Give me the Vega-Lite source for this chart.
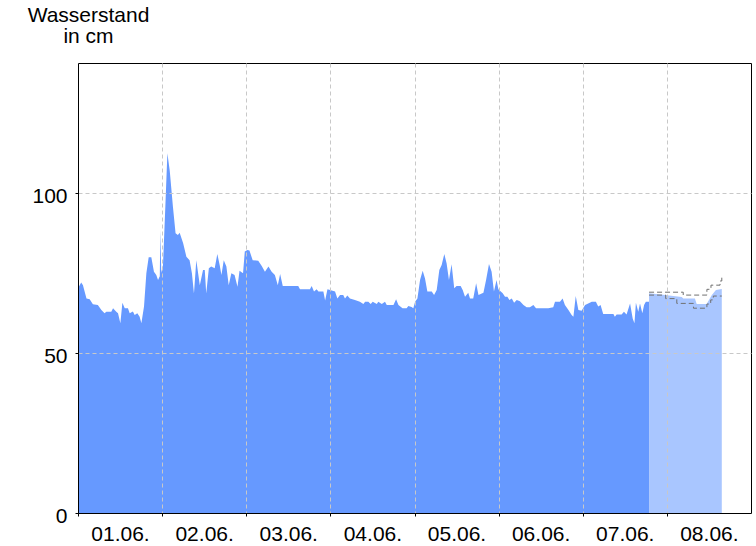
{
  "$schema": "https://vega.github.io/schema/vega-lite/v6.json",
  "width": 673,
  "height": 450,
  "autosize": {"type": "none"},
  "padding": {"left": 78, "top": 63, "right": 5, "bottom": 33},
  "background": "white",
  "config": {
    "view": {"stroke": "black", "strokeWidth": 1},
    "font": "Liberation Sans"
  },
  "datasets": {
    "messung": [
      {"zeit": "2024-06-01T00:00:00Z", "wert": 70.2},
      {"zeit": "2024-06-01T00:55:00Z", "wert": 72},
      {"zeit": "2024-06-01T01:25:00Z", "wert": 71.2},
      {"zeit": "2024-06-01T02:25:00Z", "wert": 67},
      {"zeit": "2024-06-01T03:20:00Z", "wert": 66.8},
      {"zeit": "2024-06-01T04:15:00Z", "wert": 65.2},
      {"zeit": "2024-06-01T05:40:00Z", "wert": 65},
      {"zeit": "2024-06-01T06:40:00Z", "wert": 63.4},
      {"zeit": "2024-06-01T07:35:00Z", "wert": 62.4},
      {"zeit": "2024-06-01T08:05:00Z", "wert": 62.9},
      {"zeit": "2024-06-01T09:30:00Z", "wert": 62.9},
      {"zeit": "2024-06-01T10:00:00Z", "wert": 64},
      {"zeit": "2024-06-01T10:55:00Z", "wert": 62.9},
      {"zeit": "2024-06-01T11:25:00Z", "wert": 62.4},
      {"zeit": "2024-06-01T12:05:00Z", "wert": 59.3},
      {"zeit": "2024-06-01T12:40:00Z", "wert": 65.7},
      {"zeit": "2024-06-01T13:20:00Z", "wert": 64},
      {"zeit": "2024-06-01T14:15:00Z", "wert": 64},
      {"zeit": "2024-06-01T14:45:00Z", "wert": 62.4},
      {"zeit": "2024-06-01T15:40:00Z", "wert": 63},
      {"zeit": "2024-06-01T16:10:00Z", "wert": 61.9},
      {"zeit": "2024-06-01T16:55:00Z", "wert": 62.4},
      {"zeit": "2024-06-01T17:35:00Z", "wert": 61.3},
      {"zeit": "2024-06-01T18:05:00Z", "wert": 59.3},
      {"zeit": "2024-06-01T18:50:00Z", "wert": 64.5},
      {"zeit": "2024-06-01T19:30:00Z", "wert": 74.9},
      {"zeit": "2024-06-01T20:10:00Z", "wert": 79.9},
      {"zeit": "2024-06-01T20:55:00Z", "wert": 79.9},
      {"zeit": "2024-06-01T21:40:00Z", "wert": 75.4},
      {"zeit": "2024-06-01T22:20:00Z", "wert": 74.4},
      {"zeit": "2024-06-01T22:50:00Z", "wert": 72.8},
      {"zeit": "2024-06-01T23:20:00Z", "wert": 74},
      {"zeit": "2024-06-01T23:30:00Z", "wert": 88.5},
      {"zeit": "2024-06-01T23:45:00Z", "wert": 75},
      {"zeit": "2024-06-02T00:15:00Z", "wert": 77.5},
      {"zeit": "2024-06-02T00:55:00Z", "wert": 95.7},
      {"zeit": "2024-06-02T01:30:00Z", "wert": 112.4},
      {"zeit": "2024-06-02T02:10:00Z", "wert": 107},
      {"zeit": "2024-06-02T03:05:00Z", "wert": 95.7},
      {"zeit": "2024-06-02T03:50:00Z", "wert": 87.4},
      {"zeit": "2024-06-02T04:30:00Z", "wert": 86.9},
      {"zeit": "2024-06-02T05:00:00Z", "wert": 87.6},
      {"zeit": "2024-06-02T06:00:00Z", "wert": 84.3},
      {"zeit": "2024-06-02T06:55:00Z", "wert": 80.1},
      {"zeit": "2024-06-02T07:50:00Z", "wert": 79},
      {"zeit": "2024-06-02T08:30:00Z", "wert": 74.9},
      {"zeit": "2024-06-02T09:05:00Z", "wert": 68.6},
      {"zeit": "2024-06-02T09:45:00Z", "wert": 79},
      {"zeit": "2024-06-02T10:45:00Z", "wert": 71.2},
      {"zeit": "2024-06-02T11:40:00Z", "wert": 75.9},
      {"zeit": "2024-06-02T12:10:00Z", "wert": 75.9},
      {"zeit": "2024-06-02T12:35:00Z", "wert": 68.6},
      {"zeit": "2024-06-02T13:20:00Z", "wert": 76.5},
      {"zeit": "2024-06-02T14:00:00Z", "wert": 77},
      {"zeit": "2024-06-02T15:00:00Z", "wert": 76.5},
      {"zeit": "2024-06-02T15:45:00Z", "wert": 80.9},
      {"zeit": "2024-06-02T16:25:00Z", "wert": 77.5},
      {"zeit": "2024-06-02T16:55:00Z", "wert": 74.4},
      {"zeit": "2024-06-02T17:35:00Z", "wert": 79},
      {"zeit": "2024-06-02T18:20:00Z", "wert": 77},
      {"zeit": "2024-06-02T19:00:00Z", "wert": 71.2},
      {"zeit": "2024-06-02T19:45:00Z", "wert": 74.9},
      {"zeit": "2024-06-02T20:40:00Z", "wert": 74.4},
      {"zeit": "2024-06-02T21:30:00Z", "wert": 70.7},
      {"zeit": "2024-06-02T22:05:00Z", "wert": 75.7},
      {"zeit": "2024-06-02T23:05:00Z", "wert": 74.9},
      {"zeit": "2024-06-02T23:35:00Z", "wert": 81.7},
      {"zeit": "2024-06-03T00:20:00Z", "wert": 82.2},
      {"zeit": "2024-06-03T00:55:00Z", "wert": 82},
      {"zeit": "2024-06-03T01:50:00Z", "wert": 79},
      {"zeit": "2024-06-03T03:25:00Z", "wert": 78.8},
      {"zeit": "2024-06-03T04:25:00Z", "wert": 77.2},
      {"zeit": "2024-06-03T05:20:00Z", "wert": 75.4},
      {"zeit": "2024-06-03T06:20:00Z", "wert": 77},
      {"zeit": "2024-06-03T07:15:00Z", "wert": 75.4},
      {"zeit": "2024-06-03T08:10:00Z", "wert": 74.4},
      {"zeit": "2024-06-03T09:00:00Z", "wert": 71.2},
      {"zeit": "2024-06-03T09:40:00Z", "wert": 74.7},
      {"zeit": "2024-06-03T10:25:00Z", "wert": 70.9},
      {"zeit": "2024-06-03T14:50:00Z", "wert": 70.9},
      {"zeit": "2024-06-03T15:20:00Z", "wert": 69.9},
      {"zeit": "2024-06-03T18:10:00Z", "wert": 69.9},
      {"zeit": "2024-06-03T18:40:00Z", "wert": 70.9},
      {"zeit": "2024-06-03T19:20:00Z", "wert": 69.2},
      {"zeit": "2024-06-03T20:05:00Z", "wert": 69.9},
      {"zeit": "2024-06-03T20:35:00Z", "wert": 69.2},
      {"zeit": "2024-06-03T22:00:00Z", "wert": 69.2},
      {"zeit": "2024-06-03T22:30:00Z", "wert": 66.4},
      {"zeit": "2024-06-03T23:10:00Z", "wert": 69.9},
      {"zeit": "2024-06-03T23:55:00Z", "wert": 69.7},
      {"zeit": "2024-06-04T01:20:00Z", "wert": 69.2},
      {"zeit": "2024-06-04T02:00:00Z", "wert": 67},
      {"zeit": "2024-06-04T02:45:00Z", "wert": 68.1},
      {"zeit": "2024-06-04T03:40:00Z", "wert": 68.1},
      {"zeit": "2024-06-04T04:10:00Z", "wert": 67},
      {"zeit": "2024-06-04T04:50:00Z", "wert": 68},
      {"zeit": "2024-06-04T05:35:00Z", "wert": 67},
      {"zeit": "2024-06-04T07:00:00Z", "wert": 66.6},
      {"zeit": "2024-06-04T08:25:00Z", "wert": 66},
      {"zeit": "2024-06-04T09:25:00Z", "wert": 65.3},
      {"zeit": "2024-06-04T09:55:00Z", "wert": 66},
      {"zeit": "2024-06-04T10:50:00Z", "wert": 66},
      {"zeit": "2024-06-04T11:30:00Z", "wert": 65.3},
      {"zeit": "2024-06-04T12:05:00Z", "wert": 66},
      {"zeit": "2024-06-04T13:15:00Z", "wert": 65.3},
      {"zeit": "2024-06-04T13:40:00Z", "wert": 66},
      {"zeit": "2024-06-04T14:40:00Z", "wert": 65.3},
      {"zeit": "2024-06-04T15:35:00Z", "wert": 66},
      {"zeit": "2024-06-04T16:05:00Z", "wert": 65},
      {"zeit": "2024-06-04T18:00:00Z", "wert": 65},
      {"zeit": "2024-06-04T18:45:00Z", "wert": 66.8},
      {"zeit": "2024-06-04T19:25:00Z", "wert": 65},
      {"zeit": "2024-06-04T20:35:00Z", "wert": 64},
      {"zeit": "2024-06-04T21:45:00Z", "wert": 64},
      {"zeit": "2024-06-04T22:15:00Z", "wert": 64.7},
      {"zeit": "2024-06-04T23:10:00Z", "wert": 64.4},
      {"zeit": "2024-06-04T23:40:00Z", "wert": 64},
      {"zeit": "2024-06-05T00:10:00Z", "wert": 66},
      {"zeit": "2024-06-05T00:50:00Z", "wert": 67},
      {"zeit": "2024-06-05T01:35:00Z", "wert": 72.8},
      {"zeit": "2024-06-05T02:20:00Z", "wert": 75.7},
      {"zeit": "2024-06-05T03:00:00Z", "wert": 73.3},
      {"zeit": "2024-06-05T03:40:00Z", "wert": 69.2},
      {"zeit": "2024-06-05T04:55:00Z", "wert": 69.2},
      {"zeit": "2024-06-05T05:35:00Z", "wert": 68.1},
      {"zeit": "2024-06-05T06:20:00Z", "wert": 69.7},
      {"zeit": "2024-06-05T07:05:00Z", "wert": 75.9},
      {"zeit": "2024-06-05T07:45:00Z", "wert": 77.5},
      {"zeit": "2024-06-05T08:30:00Z", "wert": 80.9},
      {"zeit": "2024-06-05T09:10:00Z", "wert": 78},
      {"zeit": "2024-06-05T09:50:00Z", "wert": 72.8},
      {"zeit": "2024-06-05T10:35:00Z", "wert": 77.7},
      {"zeit": "2024-06-05T11:20:00Z", "wert": 70.2},
      {"zeit": "2024-06-05T12:00:00Z", "wert": 70.9},
      {"zeit": "2024-06-05T13:10:00Z", "wert": 70.9},
      {"zeit": "2024-06-05T13:45:00Z", "wert": 69.7},
      {"zeit": "2024-06-05T14:25:00Z", "wert": 67.6},
      {"zeit": "2024-06-05T15:20:00Z", "wert": 68.8},
      {"zeit": "2024-06-05T15:50:00Z", "wert": 67},
      {"zeit": "2024-06-05T16:45:00Z", "wert": 67},
      {"zeit": "2024-06-05T17:35:00Z", "wert": 71.8},
      {"zeit": "2024-06-05T18:15:00Z", "wert": 68.1},
      {"zeit": "2024-06-05T19:40:00Z", "wert": 68.8},
      {"zeit": "2024-06-05T20:25:00Z", "wert": 72.8},
      {"zeit": "2024-06-05T21:15:00Z", "wert": 77.8},
      {"zeit": "2024-06-05T22:00:00Z", "wert": 75.4},
      {"zeit": "2024-06-05T22:40:00Z", "wert": 69.2},
      {"zeit": "2024-06-05T23:25:00Z", "wert": 72.8},
      {"zeit": "2024-06-05T23:55:00Z", "wert": 69.9},
      {"zeit": "2024-06-06T01:10:00Z", "wert": 68.7},
      {"zeit": "2024-06-06T01:50:00Z", "wert": 67.6},
      {"zeit": "2024-06-06T02:30:00Z", "wert": 67.6},
      {"zeit": "2024-06-06T03:05:00Z", "wert": 66.6},
      {"zeit": "2024-06-06T03:45:00Z", "wert": 67},
      {"zeit": "2024-06-06T04:25:00Z", "wert": 65.7},
      {"zeit": "2024-06-06T05:10:00Z", "wert": 66.6},
      {"zeit": "2024-06-06T06:05:00Z", "wert": 66.2},
      {"zeit": "2024-06-06T07:05:00Z", "wert": 65},
      {"zeit": "2024-06-06T08:00:00Z", "wert": 64.3},
      {"zeit": "2024-06-06T08:55:00Z", "wert": 64.3},
      {"zeit": "2024-06-06T09:55:00Z", "wert": 65},
      {"zeit": "2024-06-06T10:40:00Z", "wert": 64},
      {"zeit": "2024-06-06T14:10:00Z", "wert": 64},
      {"zeit": "2024-06-06T15:35:00Z", "wert": 64.3},
      {"zeit": "2024-06-06T16:05:00Z", "wert": 66},
      {"zeit": "2024-06-06T17:30:00Z", "wert": 66},
      {"zeit": "2024-06-06T18:15:00Z", "wert": 67},
      {"zeit": "2024-06-06T18:55:00Z", "wert": 65},
      {"zeit": "2024-06-06T19:55:00Z", "wert": 63.4},
      {"zeit": "2024-06-06T20:50:00Z", "wert": 61.9},
      {"zeit": "2024-06-06T21:20:00Z", "wert": 61.3},
      {"zeit": "2024-06-06T22:00:00Z", "wert": 67.8},
      {"zeit": "2024-06-06T22:45:00Z", "wert": 63.4},
      {"zeit": "2024-06-06T23:40:00Z", "wert": 63.2},
      {"zeit": "2024-06-07T00:40:00Z", "wert": 65},
      {"zeit": "2024-06-07T02:35:00Z", "wert": 66},
      {"zeit": "2024-06-07T03:45:00Z", "wert": 66},
      {"zeit": "2024-06-07T04:25:00Z", "wert": 64.5},
      {"zeit": "2024-06-07T05:05:00Z", "wert": 65},
      {"zeit": "2024-06-07T05:50:00Z", "wert": 62.2},
      {"zeit": "2024-06-07T08:45:00Z", "wert": 62.2},
      {"zeit": "2024-06-07T09:10:00Z", "wert": 61.3},
      {"zeit": "2024-06-07T09:40:00Z", "wert": 62},
      {"zeit": "2024-06-07T11:05:00Z", "wert": 62},
      {"zeit": "2024-06-07T11:45:00Z", "wert": 62.9},
      {"zeit": "2024-06-07T12:30:00Z", "wert": 62},
      {"zeit": "2024-06-07T13:30:00Z", "wert": 65.5},
      {"zeit": "2024-06-07T14:15:00Z", "wert": 60.8},
      {"zeit": "2024-06-07T14:45:00Z", "wert": 59.3},
      {"zeit": "2024-06-07T15:10:00Z", "wert": 65.7},
      {"zeit": "2024-06-07T15:50:00Z", "wert": 62.9},
      {"zeit": "2024-06-07T16:20:00Z", "wert": 65.5},
      {"zeit": "2024-06-07T17:00:00Z", "wert": 62.4},
      {"zeit": "2024-06-07T17:30:00Z", "wert": 65},
      {"zeit": "2024-06-07T18:00:00Z", "wert": 66},
      {"zeit": "2024-06-07T18:55:00Z", "wert": 66}
    ],
    "vorhersage": [
      {"zeit": "2024-06-07T18:55:00Z", "wert": 68.7},
      {"zeit": "2024-06-07T23:30:00Z", "wert": 68.1},
      {"zeit": "2024-06-08T01:50:00Z", "wert": 67.8},
      {"zeit": "2024-06-08T04:15:00Z", "wert": 67.5},
      {"zeit": "2024-06-08T04:40:00Z", "wert": 67},
      {"zeit": "2024-06-08T08:00:00Z", "wert": 67},
      {"zeit": "2024-06-08T08:30:00Z", "wert": 65.3},
      {"zeit": "2024-06-08T11:20:00Z", "wert": 65.3},
      {"zeit": "2024-06-08T12:00:00Z", "wert": 66.6},
      {"zeit": "2024-06-08T12:50:00Z", "wert": 68.1},
      {"zeit": "2024-06-08T14:00:00Z", "wert": 69.7},
      {"zeit": "2024-06-08T15:40:00Z", "wert": 70}
    ],
    "oben": [
      {"zeit": "2024-06-07T18:55:00Z", "wert": 69.0},
      {"zeit": "2024-06-08T04:40:00Z", "wert": 68.1},
      {"zeit": "2024-06-08T11:25:00Z", "wert": 69.9},
      {"zeit": "2024-06-08T12:35:00Z", "wert": 71.2},
      {"zeit": "2024-06-08T15:10:00Z", "wert": 72.5},
      {"zeit": "2024-06-08T15:40:00Z", "wert": 73.9}
    ],
    "unten": [
      {"zeit": "2024-06-07T18:55:00Z", "wert": 68.1},
      {"zeit": "2024-06-07T23:40:00Z", "wert": 67.0},
      {"zeit": "2024-06-08T02:50:00Z", "wert": 65.5},
      {"zeit": "2024-06-08T07:35:00Z", "wert": 64.0},
      {"zeit": "2024-06-08T11:25:00Z", "wert": 65.3},
      {"zeit": "2024-06-08T12:30:00Z", "wert": 66.6},
      {"zeit": "2024-06-08T13:15:00Z", "wert": 67.8},
      {"zeit": "2024-06-08T15:40:00Z", "wert": 67.8}
    ]
  },
  "layer": [
    {
      "data": {"name": "messung"},
      "mark": {"type": "area", "color": "#6699ff", "opacity": 1},
      "encoding": {
        "x": {
          "field": "zeit",
          "type": "temporal",
          "scale": {
            "type": "utc",
            "domain": [
              {"year": 2024, "month": 6, "date": 1, "utc": true},
              {"year": 2024, "month": 6, "date": 9, "utc": true}
            ]
          },
          "axis": {
            "title": null,
            "values": [
              {"year": 2024, "month": 6, "date": 1, "utc": true},
              {"year": 2024, "month": 6, "date": 2, "utc": true},
              {"year": 2024, "month": 6, "date": 3, "utc": true},
              {"year": 2024, "month": 6, "date": 4, "utc": true},
              {"year": 2024, "month": 6, "date": 5, "utc": true},
              {"year": 2024, "month": 6, "date": 6, "utc": true},
              {"year": 2024, "month": 6, "date": 7, "utc": true},
              {"year": 2024, "month": 6, "date": 8, "utc": true}
            ],
            "labelExpr": "utcFormat(datum.value, '%d.%m.')",
            "labelOffset": 42,
            "labelFlush": false,
            "labelOverlap": false,
            "labelBound": false,
            "labelFont": "Liberation Sans",
            "labelFontSize": 21,
            "labelColor": "black",
            "labelPadding": 7,
            "grid": true,
            "gridColor": "#c8c8c8",
            "gridDash": [4, 3],
            "gridWidth": 1,
            "domainColor": "black",
            "tickColor": "black",
            "tickSize": 3,
            "zindex": 1
          }
        },
        "y": {
          "field": "wert",
          "type": "quantitative",
          "scale": {"domain": [0, 140.625], "nice": false, "zero": true},
          "axis": {
            "values": [0, 50, 100],
            "title": ["Wasserstand", "in cm"],
            "titleAngle": 0,
            "titleAlign": "center",
            "titleBaseline": "alphabetic",
            "titleX": 10,
            "titleY": -42,
            "titleFont": "Liberation Sans",
            "titleFontSize": 21,
            "titleFontWeight": "normal",
            "titleColor": "black",
            "titleLineHeight": 21,
            "labelFont": "Liberation Sans",
            "labelFontSize": 21,
            "labelColor": "black",
            "labelPadding": 8,
            "labelOffset": 3,
            "labelFlush": false,
            "labelOverlap": false,
            "labelBound": false,
            "grid": true,
            "gridColor": "#c8c8c8",
            "gridDash": [4, 3],
            "gridWidth": 1,
            "domainColor": "black",
            "tickColor": "black",
            "tickSize": 3,
            "zindex": 1
          }
        }
      }
    },
    {
      "data": {"name": "vorhersage"},
      "mark": {"type": "area", "color": "#a9c6ff", "opacity": 1},
      "encoding": {
        "x": {"field": "zeit", "type": "temporal"},
        "y": {"field": "wert", "type": "quantitative"}
      }
    },
    {
      "data": {"name": "oben"},
      "mark": {"type": "line", "color": "#707070", "strokeWidth": 1, "strokeDash": [5, 3], "interpolate": "step-after"},
      "encoding": {
        "x": {"field": "zeit", "type": "temporal"},
        "y": {"field": "wert", "type": "quantitative"}
      }
    },
    {
      "data": {"name": "unten"},
      "mark": {"type": "line", "color": "#707070", "strokeWidth": 1, "strokeDash": [5, 3], "interpolate": "step-after"},
      "encoding": {
        "x": {"field": "zeit", "type": "temporal"},
        "y": {"field": "wert", "type": "quantitative"}
      }
    }
  ]
}
